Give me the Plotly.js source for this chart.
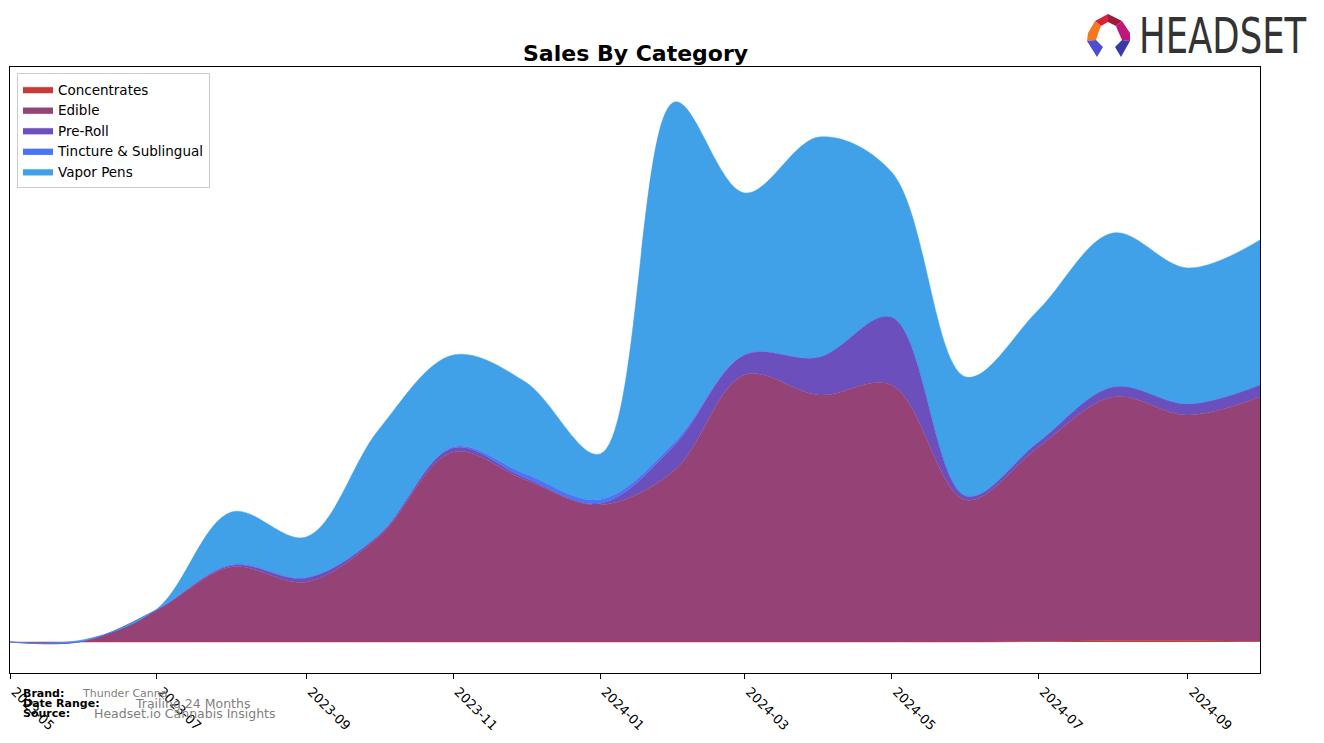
<!DOCTYPE html>
<html>
<head>
<meta charset="utf-8">
<script src="https://cdn.plot.ly/plotly-3.0.1.min.js"></script>
<style>
html,body{margin:0;padding:0;background:#fff;}
#chart{width:1324px;height:743px;}
</style>
</head>
<body>
<div id="chart"></div>
<script>
// Monthly dates
const months = ['2023-05-01','2023-06-01','2023-07-01','2023-08-01','2023-09-01','2023-10-01','2023-11-01','2023-12-01',
  '2024-01-01','2024-02-01','2024-03-01','2024-04-01','2024-05-01','2024-06-01','2024-07-01','2024-08-01','2024-09-01','2024-10-01'];

// Series values (relative sales units)
const concentrates = [0,0,0,0,0,0,0,0,0,0,0,0,0,0,0.5,1.5,1.5,0.5];
const edible       = [0,1,32,75,60,105,190,162,137,172,267,247,257,142,194.5,243.5,225.5,244.5];
const preRoll      = [0,0,0,1.5,4,1.5,4,2,1.5,25,20,38,68,4,5,10,11,12];
const tincture     = [0,0.5,0.5,1,0.5,0.5,1,4,4,3,0.5,0,0,0,0,0,0,0];
const vaporPens    = [0,1,0.5,52.5,40.5,105,92,92,45.5,340,161.5,220,145,119,132,154,136,145];

const categories = ['Concentrates','Edible','Pre-Roll','Tincture & Sublingual','Vapor Pens'];
const colors = ['#c73a3a','#954277','#6a4fbd','#4a76f6','#40a0e8'];
const seriesList = [concentrates, edible, preRoll, tincture, vaporPens];

// Tick labels
const tickVals = ['2023-05-01','2023-07-01','2023-09-01','2023-11-01','2024-01-01','2024-03-01','2024-05-01','2024-07-01','2024-09-01'];
const tickText = ['2023-05','2023-07','2023-09','2023-11','2024-01','2024-03','2024-05','2024-07','2024-09'];

const traces = seriesList.map((vals, i) => ({
  type: 'scatter',
  mode: 'lines',
  x: months,
  y: vals,
  name: categories[i],
  stackgroup: 'one',
  line: {shape: 'spline', smoothing: 1.0, width: 0.5, color: colors[i]},
  fillcolor: colors[i],
  hoverinfo: 'skip'
}));

const L = 10, R = 1260, T = 67, B = 673, W = 1324, H = 743;
const px = x => (x - L) / (R - L);
const py = y => (B - y) / (B - T);

const logoSvg = '<svg xmlns="http://www.w3.org/2000/svg" width="46" height="46" viewBox="0 0 46 46">' +
  '<polygon points="9,8 22,1 22,9 15,13" fill="#d8213b"/>' +
  '<polygon points="22,1 36,8 30,13 22,9" fill="#9e1b3c"/>' +
  '<polygon points="36,8 44,20 44,28 36,27 32,18 30,13" fill="#c1177a"/>' +
  '<polygon points="9,8 15,13 13,18 10,27 1,28 2,20" fill="#f47a22"/>' +
  '<polygon points="1,28 10,27 17,34 11,44" fill="#4b4fcf"/>' +
  '<polygon points="44,28 36,27 29,34 35,44" fill="#3a3aa6"/>' +
  '</svg>';

const annotations = [
  {text: '<b>Sales By Category</b>', xref: 'paper', yref: 'paper', x: 0.5, y: py(53), xanchor: 'center', yanchor: 'middle',
   showarrow: false, font: {family: 'DejaVu Sans', size: 22, color: '#000'}},
  {text: 'HEADSET', xref: 'paper', yref: 'paper', x: px(1137), y: py(37), xanchor: 'left', yanchor: 'middle',
   showarrow: false, font: {family: 'DejaVu Sans', size: 49, color: '#333333'}},
  {text: '<b>Brand:</b>', xref: 'paper', yref: 'paper', x: px(21), y: py(693), xanchor: 'left', yanchor: 'middle',
   showarrow: false, font: {family: 'DejaVu Sans', size: 11, color: '#000'}},
  {text: 'Thunder Canna', xref: 'paper', yref: 'paper', x: px(80), y: py(693), xanchor: 'left', yanchor: 'middle',
   showarrow: false, font: {family: 'DejaVu Sans', size: 11, color: '#808080'}},
  {text: '<b>Date Range:</b>', xref: 'paper', yref: 'paper', x: px(21), y: py(703), xanchor: 'left', yanchor: 'middle',
   showarrow: false, font: {family: 'DejaVu Sans', size: 11, color: '#000'}},
  {text: 'Trailing 24 Months', xref: 'paper', yref: 'paper', x: px(133), y: py(703), xanchor: 'left', yanchor: 'middle',
   showarrow: false, font: {family: 'DejaVu Sans', size: 12.5, color: '#808080'}},
  {text: '<b>Source:</b>', xref: 'paper', yref: 'paper', x: px(21), y: py(713), xanchor: 'left', yanchor: 'middle',
   showarrow: false, font: {family: 'DejaVu Sans', size: 11, color: '#000'}},
  {text: 'Headset.io Cannabis Insights', xref: 'paper', yref: 'paper', x: px(92), y: py(713), xanchor: 'left', yanchor: 'middle',
   showarrow: false, font: {family: 'DejaVu Sans', size: 12.5, color: '#808080'}}
];

const layout = {
  width: W, height: H,
  margin: {l: L, r: W - R, t: T, b: H - B, pad: 0},
  paper_bgcolor: '#fff', plot_bgcolor: '#fff',
  showlegend: true,
  legend: {x: px(17), y: py(73), xanchor: 'left', yanchor: 'top', bgcolor: 'rgba(255,255,255,0.9)',
    bordercolor: '#cccccc', borderwidth: 1, font: {family: 'DejaVu Sans', size: 13.5, color: '#000'},
    tracegroupgap: 0, traceorder: 'normal'},
  xaxis: {type: 'date', range: ['2023-05-01', '2024-10-01'], tickvals: tickVals, ticktext: tickText,
    tickangle: 45, ticks: 'outside', ticklen: 5, tickcolor: '#000', showgrid: false, zeroline: false,
    showline: true, mirror: true, linecolor: '#000', linewidth: 1, ticklabelshift: 5,
    tickfont: {family: 'DejaVu Sans', size: 13, color: '#000'}},
  yaxis: {range: [-31, 575], showticklabels: false, ticks: '', showgrid: false, zeroline: false,
    showline: true, mirror: true, linecolor: '#000', linewidth: 1},
  annotations: annotations,
  images: [{source: 'data:image/svg+xml;charset=utf-8,' + encodeURIComponent(logoSvg),
    xref: 'paper', yref: 'paper', x: px(1086), y: py(13), sizex: 46 / (R - L), sizey: 46 / (B - T),
    xanchor: 'left', yanchor: 'top', sizing: 'stretch', layer: 'above'}]
};

Plotly.newPlot('chart', traces, layout, {displayModeBar: false, staticPlot: true}).then(gd => {
  // Condense the logo word to match the narrow logotype
  gd.querySelectorAll('.annotation-text').forEach(el => {
    if (el.textContent === 'HEADSET') {
      const bb = el.getBBox();
      const s = 168 / bb.width;
      const prior = el.getAttribute('transform') || '';
      el.setAttribute('transform', prior + ' translate(' + bb.x + ',0) scale(' + s + ',1) translate(' + (-bb.x) + ',0)');
    }
  });
});
</script>
</body>
</html>
